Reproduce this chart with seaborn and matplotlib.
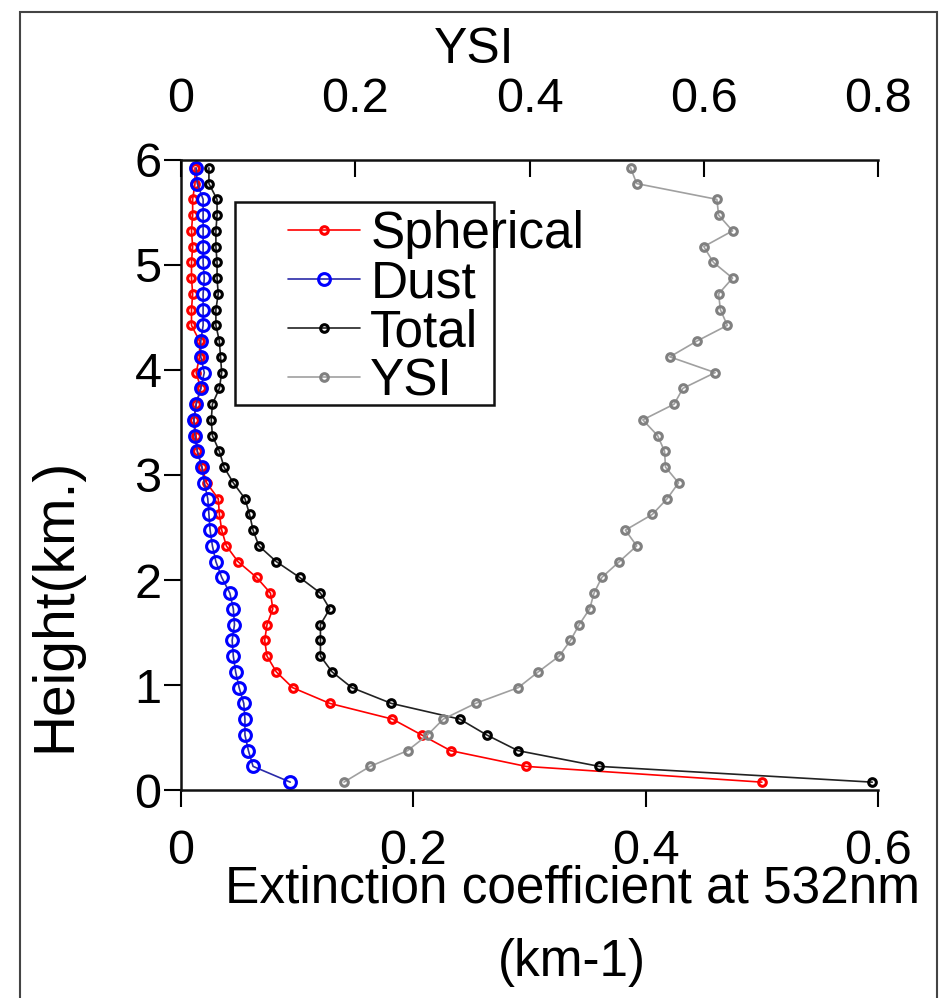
import matplotlib
matplotlib.use('Agg')
import matplotlib.pyplot as plt
import seaborn as sns
from matplotlib.patches import Rectangle

sns.set_style('ticks')
plt.rcParams['font.family'] = ['Liberation Sans', 'DejaVu Sans']
plt.rcParams['text.color'] = 'black'
plt.rcParams['axes.labelcolor'] = 'black'
plt.rcParams['xtick.color'] = 'black'
plt.rcParams['ytick.color'] = 'black'

# height levels (km)
heights = [0.075, 0.225, 0.375, 0.525, 0.675, 0.825, 0.975, 1.125, 1.275, 1.425,
           1.575, 1.725, 1.875, 2.025, 2.175, 2.325, 2.475, 2.625, 2.775, 2.925,
           3.075, 3.225, 3.375, 3.525, 3.675, 3.825, 3.975, 4.125, 4.275, 4.425,
           4.575, 4.725, 4.875, 5.025, 5.175, 5.325, 5.475, 5.625, 5.775, 5.925]

# extinction coefficient (km-1)
spherical = [0.500, 0.297, 0.232, 0.207, 0.182, 0.128, 0.096, 0.082, 0.074, 0.072,
             0.074, 0.079, 0.077, 0.065, 0.049, 0.039, 0.035, 0.033, 0.032, 0.022,
             0.018, 0.014, 0.013, 0.011, 0.013, 0.017, 0.013, 0.016, 0.016, 0.009,
             0.009, 0.010, 0.009, 0.009, 0.010, 0.009, 0.010, 0.010, 0.012, 0.012]
dust = [0.094, 0.062, 0.058, 0.055, 0.055, 0.054, 0.050, 0.047, 0.045, 0.044,
        0.046, 0.045, 0.042, 0.035, 0.030, 0.027, 0.025, 0.024, 0.023, 0.020,
        0.018, 0.014, 0.012, 0.011, 0.013, 0.017, 0.020, 0.017, 0.017, 0.019,
        0.019, 0.019, 0.020, 0.019, 0.019, 0.019, 0.019, 0.019, 0.014, 0.013]
total = [0.595, 0.360, 0.290, 0.263, 0.240, 0.181, 0.147, 0.130, 0.120, 0.120,
         0.120, 0.128, 0.120, 0.102, 0.082, 0.067, 0.062, 0.059, 0.055, 0.045,
         0.037, 0.033, 0.027, 0.026, 0.027, 0.033, 0.035, 0.034, 0.033, 0.030,
         0.030, 0.032, 0.031, 0.031, 0.030, 0.030, 0.031, 0.031, 0.024, 0.024]
# YSI (top axis)
ysi = [0.187, 0.217, 0.260, 0.283, 0.301, 0.338, 0.387, 0.410, 0.434, 0.447,
       0.457, 0.469, 0.474, 0.483, 0.503, 0.523, 0.510, 0.541, 0.558, 0.571,
       0.556, 0.555, 0.547, 0.530, 0.566, 0.576, 0.613, 0.561, 0.592, 0.627,
       0.619, 0.617, 0.633, 0.611, 0.600, 0.633, 0.617, 0.615, 0.523, 0.516]

ext_ticks = [0, 0.2, 0.4, 0.6]
ext_labels = ['0', '0.2', '0.4', '0.6']
ysi_ticks = [0, 0.2, 0.4, 0.6, 0.8]
ysi_labels = ['0', '0.2', '0.4', '0.6', '0.8']
h_ticks = [0, 1, 2, 3, 4, 5, 6]
h_labels = ['0', '1', '2', '3', '4', '5', '6']

fig = plt.figure(figsize=(9.4, 9.98), dpi=100)
ax = fig.add_axes([0.1926, 0.2084, 0.7415, 0.6313])
ax2 = ax.twiny()

sns.lineplot(x=spherical, y=heights, sort=False, estimator=None, ax=ax, legend=False,
             label='Spherical', color='red', linewidth=1.2, marker='o', markersize=5.5,
             markerfacecolor='none', markeredgecolor='red', markeredgewidth=2.2)
sns.lineplot(x=dust, y=heights, sort=False, estimator=None, ax=ax, legend=False,
             label='Dust', color='#2a2aa8', linewidth=1.2, marker='o', markersize=8.5,
             markerfacecolor='none', markeredgecolor='#0000ff', markeredgewidth=2.2)
sns.lineplot(x=total, y=heights, sort=False, estimator=None, ax=ax, legend=False,
             label='Total', color='#222222', linewidth=1.2, marker='o', markersize=5.5,
             markerfacecolor='none', markeredgecolor='black', markeredgewidth=2.2)
sns.lineplot(x=ysi, y=heights, sort=False, estimator=None, ax=ax2, legend=False,
             label='YSI', color='#a0a0a0', linewidth=1.2, marker='o', markersize=5.5,
             markerfacecolor='none', markeredgecolor='#808080', markeredgewidth=2.2)

ax.set_xlim(0, 0.6)
ax.set_ylim(0, 6)
ax2.set_xlim(0, 0.8)
ax.set_xticks(ext_ticks)
ax.set_xticklabels(ext_labels)
ax.set_yticks(h_ticks)
ax.set_yticklabels(h_labels)
ax2.set_xticks(ysi_ticks)
ax2.set_xticklabels(ysi_labels)

for s in ['left', 'bottom']:
    ax.spines[s].set_linewidth(1.8)
    ax.spines[s].set_color('#111111')
ax.spines['right'].set_visible(False)
ax.spines['top'].set_visible(False)
for s in ['left', 'bottom', 'right']:
    ax2.spines[s].set_visible(False)
ax2.spines['top'].set_linewidth(1.8)
ax2.spines['top'].set_color('#111111')

ax.tick_params(axis='x', direction='out', length=12, width=1.5, pad=16, labelsize=35)
ax.tick_params(axis='y', direction='out', length=12, width=1.5, pad=2, labelsize=35)
ax2.tick_params(axis='x', direction='in', length=12, width=1.5, pad=27, labelsize=35)

ax.set_xlabel('Extinction coefficient at 532nm\n(km-1)', fontsize=37, linespacing=1.65)
ax.xaxis.set_label_coords(0.561, -0.118)
ax.set_ylabel('Height(km.)', fontsize=41)
ax.yaxis.set_label_coords(-0.142, 0.294)
ax2.set_xlabel('YSI', fontsize=36)
ax2.xaxis.set_label_coords(0.42, 1.154)

# legend box drawn separately, entries placed inside it
ax.add_patch(Rectangle((0.0775, 0.611), 0.3715, 0.322, transform=ax.transAxes,
                       facecolor='white', edgecolor='#111111', linewidth=1.8,
                       zorder=5, clip_on=False))
h1, l1 = ax.get_legend_handles_labels()
h2, l2 = ax2.get_legend_handles_labels()
leg = ax.legend(h1 + h2, l1 + l2, loc='upper left', bbox_to_anchor=(0.1535, 0.9206),
                frameon=False, fontsize=37, handlelength=1.4, handletextpad=0.2,
                labelspacing=0.0, borderpad=0, borderaxespad=0)
leg.set_zorder(6)

fig.add_artist(Rectangle((20 / 940, -0.01), 917 / 940, 0.998, transform=fig.transFigure,
                         fill=False, edgecolor='#444444', linewidth=1.5))

fig.savefig('out.png', dpi=100)
